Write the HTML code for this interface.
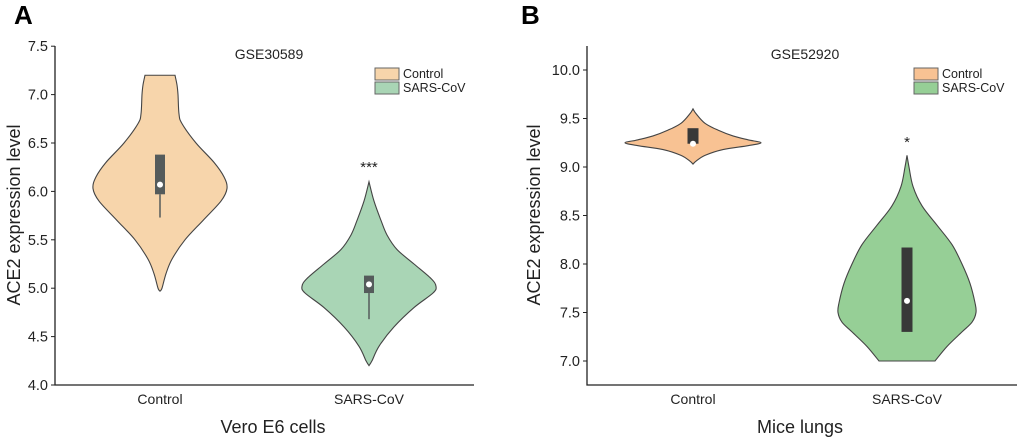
<!DOCTYPE html>
<html><head><meta charset="utf-8"><style>
body{margin:0;background:#fff;}
svg{display:block;font-family:"Liberation Sans",Arial,sans-serif;}
</style></head><body>
<svg id="chart" width="1020" height="441"></svg>
<script>
// Panel A data (value, relative density half-width in px)
const catsA = ["Control","SARS-CoV"];
const ctrlA_vals = [7.2,7.1,7.0,6.8,6.7,6.5,6.3,6.15,6.03,5.9,5.7,5.5,5.3,5.15,5.0,4.97];
const ctrlA_dens = [15,17,18,19,22,36,54,64,67,61,43,25,12,6,2,0];
const sarsA_vals = [6.1,5.9,5.7,5.55,5.4,5.25,5.1,5.02,4.95,4.8,4.6,4.4,4.25,4.2];
const sarsA_dens = [0,5,12,18,28,45,62,67,64,45,25,10,3,0];
const ctrlA_box = [5.73,5.97,6.07,6.38]; // whiskerLow, q1, median, q3
const sarsA_box = [4.68,4.95,5.04,5.13];
const ticksA = [4.0,4.5,5.0,5.5,6.0,6.5,7.0,7.5];
// Panel B data
const catsB = ["Control","SARS-CoV"];
const ctrlB_vals = [9.6,9.55,9.45,9.38,9.32,9.28,9.25,9.22,9.18,9.12,9.06,9.03];
const ctrlB_dens = [0,3,12,25,40,55,68,55,30,12,3,0];
const sarsB_vals = [9.12,9.0,8.8,8.6,8.4,8.2,8.0,7.8,7.6,7.5,7.4,7.3,7.15,7.0];
const sarsB_dens = [0,2,6,15,30,45,55,63,68,69,65,55,40,28];
const ctrlB_box = [9.24,9.24,9.24,9.4];
const sarsB_box = [7.3,7.3,7.62,8.17];
const ticksB = [7.0,7.5,8.0,8.5,9.0,9.5,10.0];

const svg = document.getElementById('chart');
const NS = 'http://www.w3.org/2000/svg';
function mk(tag, attrs, parent){const e=document.createElementNS(NS,tag);for(const k in attrs)e.setAttribute(k,attrs[k]);(parent||svg).appendChild(e);return e;}
function txt(s, attrs){const e=mk('text',attrs);e.textContent=s;return e;}

function smooth(pts){
  let d='M'+pts[0][0]+','+pts[0][1];
  for(let i=0;i<pts.length-1;i++){
    const p0=pts[Math.max(i-1,0)],p1=pts[i],p2=pts[i+1],p3=pts[Math.min(i+2,pts.length-1)];
    const c1=[p1[0]+(p2[0]-p0[0])/6,p1[1]+(p2[1]-p0[1])/6];
    const c2=[p2[0]-(p3[0]-p1[0])/6,p2[1]-(p3[1]-p1[1])/6];
    d+=' C'+c1[0]+','+c1[1]+' '+c2[0]+','+c2[1]+' '+p2[0]+','+p2[1];
  }
  return d;
}

function panel(cfg){
  const y = v => cfg.y0 - (v - cfg.vmin)*cfg.ppu;
  const ax=mk('path',{d:`M${cfg.axL},${cfg.axTop} V${cfg.axBot} H${cfg.axR}`,fill:'none',stroke:'#222','stroke-width':1.3});
  
  
  cfg.ticks.forEach(t=>{
    const ln=mk('line',{x1:cfg.axL-4,x2:cfg.axL,y1:y(t),y2:y(t),stroke:'#222','stroke-width':1});
    
    
    const tl=txt(t.toFixed(1),{x:cfg.axL-7,y:y(t)+5,'text-anchor':'end','font-size':14.5,fill:'#222'});
    
    
  });
  cfg.series.forEach((s,i)=>{
    const cx=cfg.cx[i];
    const right=s.vals.map((v,k)=>[cx+s.dens[k],y(v)]);
    const left=s.vals.map((v,k)=>[cx-s.dens[k],y(v)]).reverse();
    let d=smooth(right)+' L'+left[0][0]+','+left[0][1]+smooth(left).replace(/^M[^ ]+/,'')+' Z';
    const p=mk('path',{d:d,fill:s.color,stroke:'#444','stroke-width':1.1});
    
    
    const b=s.box;
    const w=mk('line',{x1:cx,x2:cx,y1:y(b[0]),y2:y(b[1]),stroke:cfg.boxColor,'stroke-width':1.5});
    
    
    const r=mk('rect',{x:cx-cfg.boxW/2,y:y(b[3]),width:cfg.boxW,height:y(b[1])-y(b[3]),fill:cfg.boxColor});
    
    
    const m=mk('circle',{cx:cx,cy:y(b[2]),r:3,fill:'#fff'});
    
    
    const xl=txt(cfg.cats[i],{x:cx,y:404,'text-anchor':'middle','font-size':14,fill:'#222'});
    
    
  });
  const st=txt(cfg.star,{x:cfg.cx[1],y:cfg.starY,'text-anchor':'middle','font-size':15,fill:'#222'});
  
  
  const tt=txt(cfg.title,{x:cfg.titleX,y:59,'text-anchor':'middle','font-size':14,fill:'#222'});
  
  
  const xt=txt(cfg.xTitle,{x:cfg.xTitleX,y:433,'text-anchor':'middle','font-size':18,fill:'#222'});
  
  
  const yt=txt('ACE2 expression level',{x:0,y:0,'text-anchor':'middle','font-size':18,fill:'#222',transform:`translate(${cfg.yTitleX},215) rotate(-90)`});
  
  
  const pl=txt(cfg.letter,{x:cfg.letterX,y:24,'font-size':26,'font-weight':'bold',fill:'#000'});
  
  
  cfg.cats.forEach((c,i)=>{
    const ly=68+i*14;
    const lr=mk('rect',{x:cfg.legX,y:ly,width:24,height:12,fill:cfg.series[i].color,stroke:'#666','stroke-width':1});
    
    
    const lt=txt(c,{x:cfg.legX+28,y:ly+10,'font-size':12.5,fill:'#222'});
    
    
  });
}

panel({id:'panel-a',letter:'A',letterX:14,vmin:4.0,y0:385,ppu:96.8,axL:55,axR:474,axTop:46,axBot:385,
  cx:[160,369],cats:catsA,ticks:ticksA,boxColor:'#555b5b',boxW:10,star:'***',starY:172,
  title:'GSE30589',titleX:269,xTitle:'Vero E6 cells',xTitleX:273,yTitleX:20,legX:375,
  series:[{vals:ctrlA_vals,dens:ctrlA_dens,color:'#f7d5ab',box:ctrlA_box},{vals:sarsA_vals,dens:sarsA_dens,color:'#a9d5b5',box:sarsA_box}]});
panel({id:'panel-b',letter:'B',letterX:521,vmin:7.0,y0:361,ppu:97,axL:587,axR:1017,axTop:46,axBot:385,
  cx:[693,907],cats:catsB,ticks:ticksB,boxColor:'#383838',boxW:11,star:'*',starY:147,
  title:'GSE52920',titleX:805,xTitle:'Mice lungs',xTitleX:800,yTitleX:540,legX:914,
  series:[{vals:ctrlB_vals,dens:ctrlB_dens,color:'#f8c293',box:ctrlB_box},{vals:sarsB_vals,dens:sarsB_dens,color:'#96cf96',box:sarsB_box}]});
</script>
</body></html>
